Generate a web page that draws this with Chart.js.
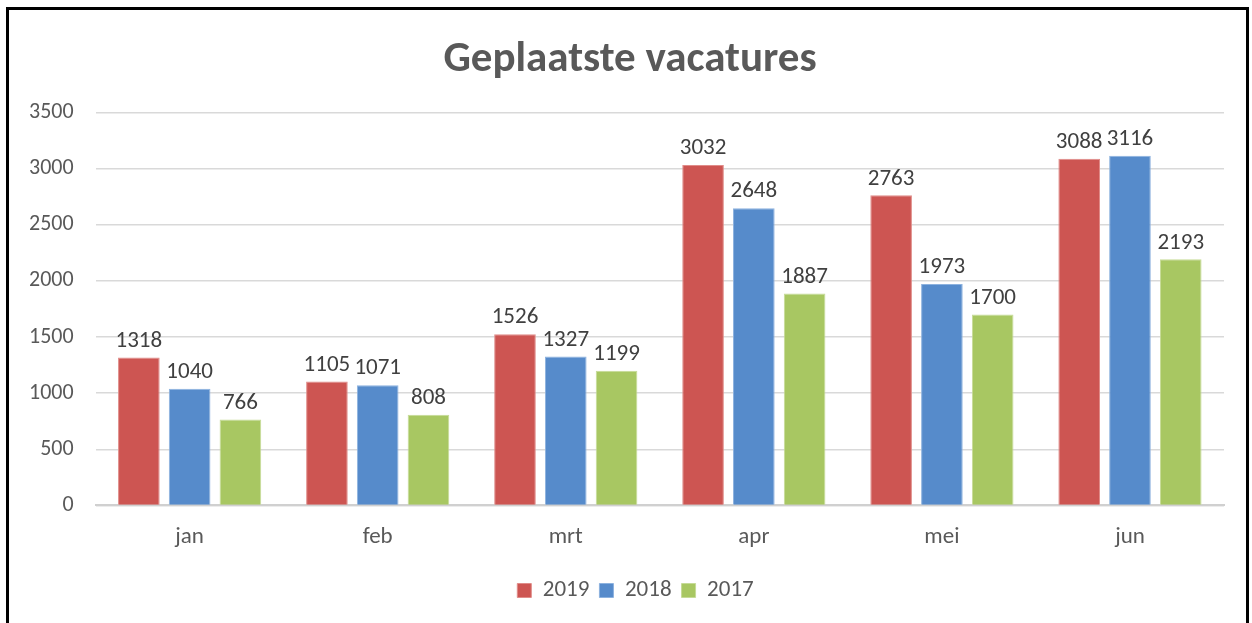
<!DOCTYPE html>
<html>
<head>
<meta charset="utf-8">
<script src="https://cdn.jsdelivr.net/npm/chart.js@4/dist/chart.umd.min.js"></script>
<style>
  html, body { margin: 0; padding: 0; background: #fff; overflow: hidden; }
  #wrap { position: relative; width: 1252px; height: 623px; }
  #frame { position: absolute; left: 6px; top: 7px; width: 1237px; height: 700px; border: 3px solid #000; pointer-events: none; }
</style>
</head>
<body>
<div id="wrap">
  <canvas id="chart" width="1252" height="623"></canvas>
  <div id="frame"></div>
</div>
<script>
// data
const maanden = ['jan', 'feb', 'mrt', 'apr', 'mei', 'jun'];
const data2019 = [1318, 1105, 1526, 3032, 2763, 3088];
const data2018 = [1040, 1071, 1327, 2648, 1973, 3116];
const data2017 = [766, 808, 1199, 1887, 1700, 2193];

const tekstKleur = '#595959';
const font = 'Carlito, Calibri, Lato, sans-serif';

// labels boven de staven (geen datalabels plugin beschikbaar)
const waardeLabels = {
  id: 'waardeLabels',
  afterDatasetsDraw(chart) {
    const ctx = chart.ctx;
    ctx.save();
    ctx.font = '23px ' + font;
    ctx.fillStyle = '#404040';
    ctx.textAlign = 'center';
    ctx.textBaseline = 'bottom';
    chart.data.datasets.forEach((ds, i) => {
      chart.getDatasetMeta(i).data.forEach((bar, j) => {
        ctx.fillText(ds.data[j], bar.x, bar.y - 5);
      });
    });
    ctx.restore();
  }
};

// titel en legenda midden in het kader zetten i.p.v. boven het plotgebied
const middenInKader = {
  id: 'middenInKader',
  afterLayout(chart) {
    if (chart.titleBlock) chart.titleBlock.left += 29;
    if (chart.legend) chart.legend.left += 40;
  }
};

new Chart(document.getElementById('chart').getContext('2d'), {
  type: 'bar',
  data: {
    labels: maanden,
    datasets: [{
      label: '2019',
      data: data2019,
      backgroundColor: '#CD5552',
      borderColor: '#E08C89',
      borderWidth: 1
    }, {
      label: '2018',
      data: data2018,
      backgroundColor: '#568BCB',
      borderColor: '#8DB2DF',
      borderWidth: 1
    }, {
      label: '2017',
      data: data2017,
      backgroundColor: '#A8C762',
      borderColor: '#C6DB97',
      borderWidth: 1
    }]
  },
  options: {
    responsive: false,
    animation: false,
    layout: { padding: { left: 7, right: 28, top: 0, bottom: 11 } },
    datasets: {
      bar: { categoryPercentage: 0.81, barPercentage: 0.82 }
    },
    plugins: {
      title: {
        display: true,
        text: 'Geplaatste vacatures',
        color: tekstKleur,
        font: { family: font, size: 43, weight: 'bold' },
        padding: { top: 34, bottom: 27 }
      },
      legend: {
        position: 'bottom',
        labels: {
          color: tekstKleur,
          font: { family: font, size: 23 },
          boxWidth: 14,
          boxHeight: 14,
          padding: 10
        }
      },
      tooltip: { enabled: false }
    },
    scales: {
      x: {
        grid: { display: false, drawTicks: false },
        border: { color: '#D0D0D0', width: 2 },
        ticks: { color: tekstKleur, font: { family: font, size: 23 }, padding: 18 }
      },
      y: {
        min: 0,
        max: 3500,
        grid: { color: '#D9D9D9', lineWidth: 1.5, drawTicks: false },
        border: { display: false },
        ticks: {
          stepSize: 500,
          color: tekstKleur,
          font: { family: font, size: 22 },
          padding: 22,
          callback: v => String(v)
        }
      }
    }
  },
  plugins: [waardeLabels, middenInKader]
});
</script>
</body>
</html>
